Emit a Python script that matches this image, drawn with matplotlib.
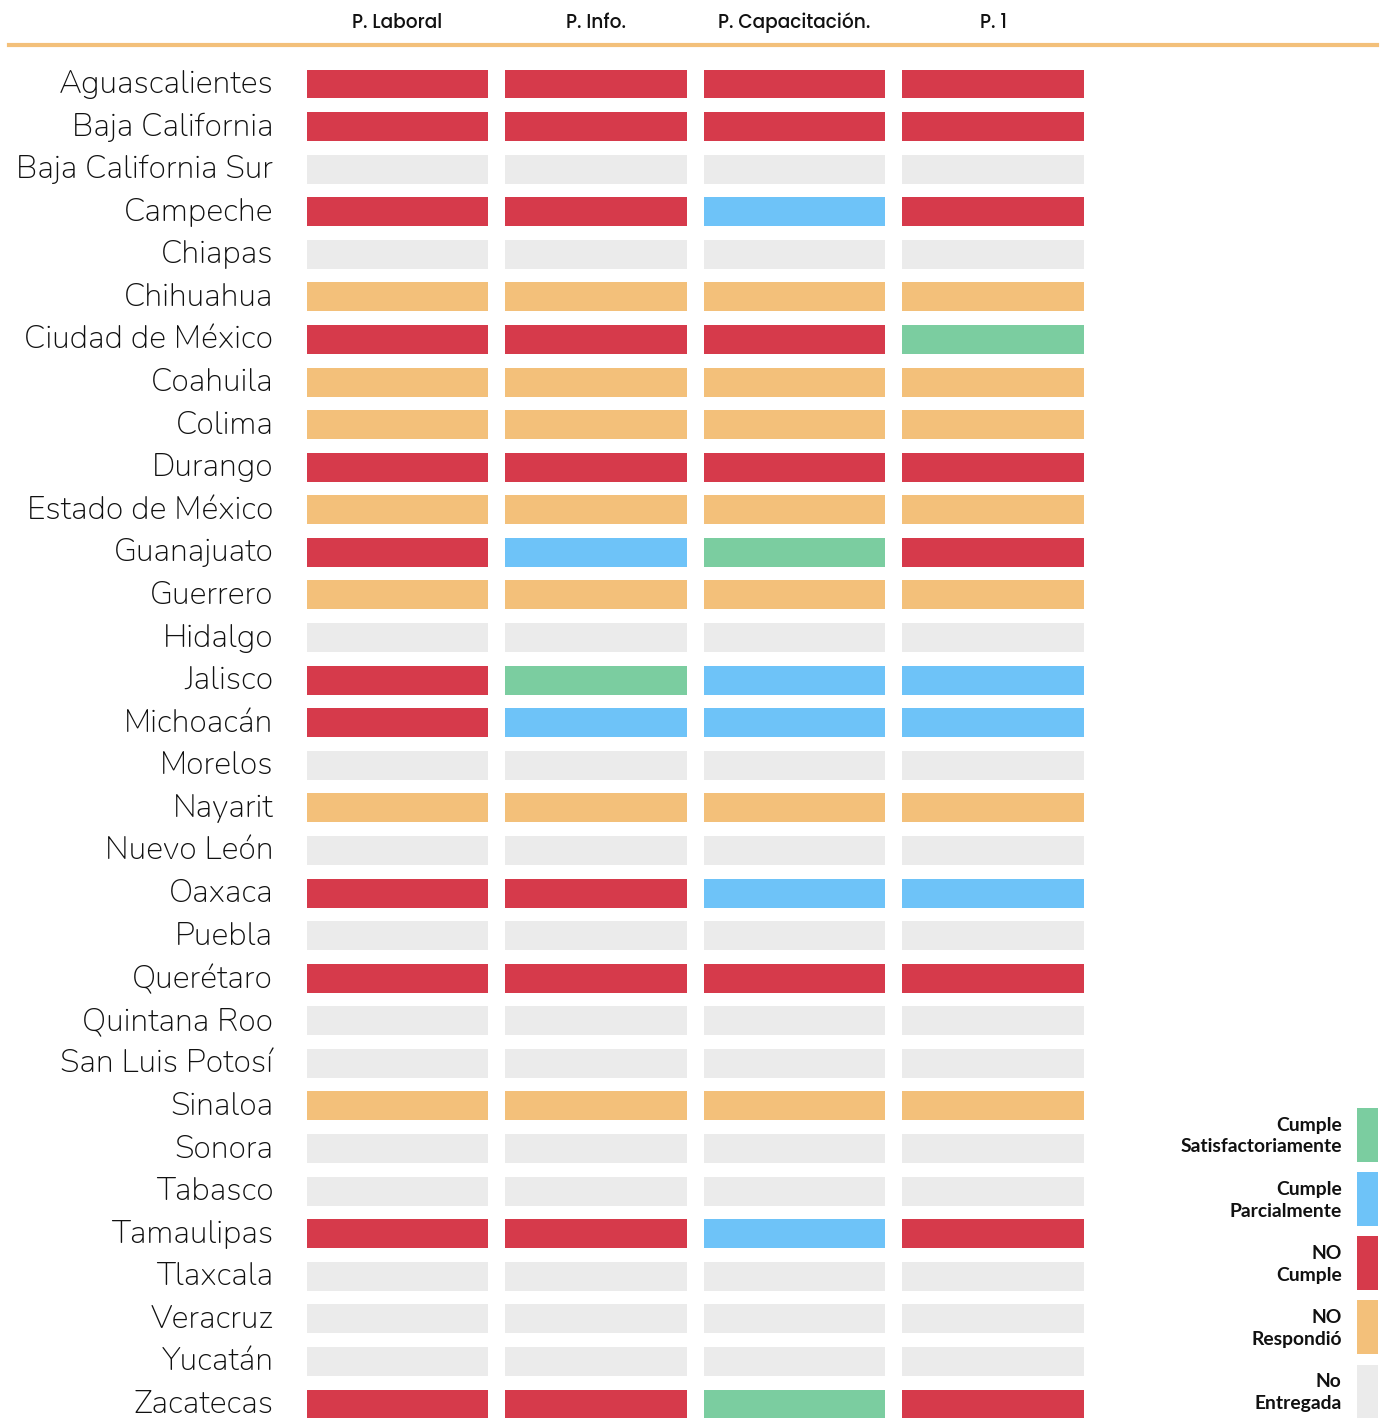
import matplotlib
matplotlib.use('Agg')
import matplotlib.pyplot as plt
from matplotlib.lines import Line2D
from matplotlib.transforms import ScaledTranslation

states = ['Aguascalientes', 'Baja California', 'Baja California Sur', 'Campeche', 'Chiapas',
          'Chihuahua', 'Ciudad de México', 'Coahuila', 'Colima', 'Durango', 'Estado de México',
          'Guanajuato', 'Guerrero', 'Hidalgo', 'Jalisco', 'Michoacán', 'Morelos', 'Nayarit',
          'Nuevo León', 'Oaxaca', 'Puebla', 'Querétaro', 'Quintana Roo', 'San Luis Potosí',
          'Sinaloa', 'Sonora', 'Tabasco', 'Tamaulipas', 'Tlaxcala', 'Veracruz', 'Yucatán',
          'Zacatecas']
columns = ['P. Laboral', 'P. Info.', 'P. Capacitación.', 'P. 1']

# V = cumple satisfactoriamente, B = parcialmente, R = no cumple, O = no respondió, G = no entregada
status = ['RRRR', 'RRRR', 'GGGG', 'RRBR', 'GGGG',
          'OOOO', 'RRRV', 'OOOO', 'OOOO', 'RRRR', 'OOOO',
          'RBVR', 'OOOO', 'GGGG', 'RVBB', 'RBBB', 'GGGG', 'OOOO',
          'GGGG', 'RRBB', 'GGGG', 'RRRR', 'GGGG', 'GGGG',
          'OOOO', 'GGGG', 'GGGG', 'RRBR', 'GGGG', 'GGGG', 'GGGG',
          'RRVR']

legend_keys = ['V', 'B', 'R', 'O', 'G']
legend_labels = ['Cumple\nSatisfactoriamente', 'Cumple\nParcialmente', 'NO\nCumple',
                 'NO\nRespondió', 'No\nEntregada']
colors = {'V': '#7BCDA0', 'B': '#6EC3F8', 'R': '#D63A4B', 'O': '#F3C07A', 'G': '#EBEBEB'}

W, H = 1387, 1418
fig = plt.figure(figsize=(W / 100, H / 100), dpi=100)

def px_axes(left, top, right, bottom):
    return fig.add_axes([left / W, 1 - bottom / H, (right - left) / W, (bottom - top) / H])

ax = px_axes(298.25, 62.7, 1092.25, 1425.3)
for i, row in enumerate(status):
    for j, c in enumerate(row):
        ax.barh(i, 0.912, left=j - 0.456, height=0.68, color=colors[c])
ax.set_xlim(-0.5, 3.5)
ax.set_ylim(len(states) - 0.5, -0.5)
ax.set_yticks(range(len(states)))
ax.set_yticklabels(states, fontsize=23.2, family=['Nunito', 'Lato', 'DejaVu Sans'],
                   fontweight='normal', color='#111111')
ax.tick_params(axis='y', length=0, pad=18)
shift = ScaledTranslation(0, 2.5 / 100, fig.dpi_scale_trans)
for lbl in ax.get_yticklabels():
    lbl.set_transform(lbl.get_transform() + shift)
ax.xaxis.tick_top()
ax.set_xticks(range(len(columns)))
ax.set_xticklabels(columns, fontsize=13.4, family=['Poppins', 'Inter', 'DejaVu Sans'],
                   fontweight='medium', color='#111111')
ax.tick_params(axis='x', length=0, pad=21.5)
for s in ax.spines.values():
    s.set_visible(False)
ax.set_facecolor('none')

fig.add_artist(Line2D([9 / W, 1377 / W], [1 - 44.5 / H, 1 - 44.5 / H],
                      transform=fig.transFigure, color='#F3C07A', linewidth=3))

lax = px_axes(1357, 1103, 1378, 1423.5)
for k, key in enumerate(legend_keys):
    lax.bar(0, 0.84, bottom=k - 0.42, width=1, color=colors[key])
lax.set_xlim(-0.5, 0.5)
lax.set_ylim(len(legend_keys) - 0.5, -0.5)
lax.set_xticks([])
lax.set_yticks(range(len(legend_keys)))
lax.set_yticklabels(legend_labels, fontsize=13.9, family=['Lato', 'DejaVu Sans'],
                    fontweight='bold', color='#111111', linespacing=1.35)
lax.tick_params(axis='y', length=0, pad=11)
lshift = ScaledTranslation(0, 3 / 100, fig.dpi_scale_trans)
for lbl in lax.get_yticklabels():
    lbl.set_transform(lbl.get_transform() + lshift)
for s in lax.spines.values():
    s.set_visible(False)
lax.set_facecolor('none')

fig.savefig('out.png', dpi=100)
